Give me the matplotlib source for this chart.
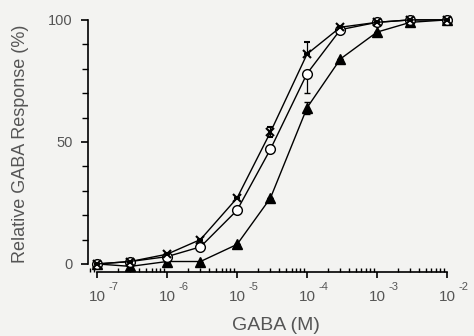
import matplotlib.pyplot as plt
import numpy as np
from matplotlib.ticker import FixedLocator, LogLocator, NullFormatter

plt.rcParams['font.family'] = ['Liberation Sans', 'DejaVu Sans']

# === data ===
conc = [1e-7, 3e-7, 1e-6, 3e-6, 1e-5, 3e-5, 1e-4, 3e-4, 1e-3, 3e-3, 1e-2]

cross_resp = [0, 1, 4, 10, 27, 54, 86, 97, 99, 100, 100]
cross_err_lo = [0, 0, 0, 0, 0, 2, 0, 0, 0, 0, 0]
cross_err_hi = [0, 0, 0, 0, 0, 2, 5, 0, 0, 0, 0]

circle_resp = [0, 1, 3, 7, 22, 47, 78, 96, 99, 100, 100]
circle_err_lo = [0, 0, 0, 0, 0, 0, 8, 0, 0, 0, 0]
circle_err_hi = [0, 0, 0, 0, 0, 0, 0, 0, 0, 0, 0]

tri_resp = [0, -1, 1, 1, 8, 27, 64, 84, 95, 99, 100]
tri_err = [0, 0, 0, 0, 0, 0, 2.5, 0, 0, 0, 0]

decade_ticks = [1e-7, 1e-6, 1e-5, 1e-4, 1e-3, 1e-2]
decade_exps = ['-7', '-6', '-5', '-4', '-3', '-2']

# === draw ===
bg = '#f3f3f1'
txt = '#555555'
fig = plt.figure(figsize=(4.74, 3.36), dpi=100, facecolor=bg)
ax = fig.add_axes([88 / 474, 1 - 272 / 336, (452 - 88) / 474, (272 - 15) / 336])
ax.set_facecolor(bg)

ax.errorbar(conc, tri_resp, yerr=tri_err, color='black', lw=1.0, marker='^',
            markersize=7, markerfacecolor='black', markeredgecolor='black',
            capsize=2.5, elinewidth=0.9, zorder=3)
ax.errorbar(conc, circle_resp, yerr=[circle_err_lo, circle_err_hi], color='black', lw=1.0,
            marker='o', markersize=7, markerfacecolor='white', markeredgecolor='black',
            capsize=2.5, elinewidth=0.9, zorder=4)
ax.errorbar(conc, cross_resp, yerr=[cross_err_lo, cross_err_hi], color='black', lw=1.0,
            marker='x', markersize=6, markeredgewidth=1.5, capsize=2.5, elinewidth=0.9,
            zorder=5)

ax.set_xscale('log')
ax.set_xlim(10 ** -7.13, 10 ** (-2 + 5 / 70))
ax.set_ylim(-3.3, 102)

ax.spines['top'].set_visible(False)
ax.spines['right'].set_visible(False)
ax.spines['left'].set_bounds(0, 100)
ax.spines['bottom'].set_bounds(1e-7, 1e-2)
for s in ['left', 'bottom']:
    ax.spines[s].set_linewidth(1.2)

# x ticks: "10" under the tick, exponent raised to its right
ax.xaxis.set_major_locator(FixedLocator(decade_ticks))
ax.set_xticklabels(['10'] * len(decade_ticks))
ax.xaxis.set_minor_locator(LogLocator(base=10, subs=np.arange(2, 10), numticks=20))
ax.xaxis.set_minor_formatter(NullFormatter())
ax.tick_params(axis='x', which='major', direction='out', length=4.5, width=1.2,
               labelsize=11, labelcolor=txt, pad=8.5)
ax.tick_params(axis='x', which='minor', direction='in', length=3, width=1.0)
for xt, ex in zip(decade_ticks, decade_exps):
    ax.annotate(ex, xy=(xt, 0), xycoords=('data', 'axes fraction'),
                xytext=(8, -7), textcoords='offset points',
                ha='left', va='top', fontsize=8, color=txt)

ax.set_yticks([0, 50, 100])
ax.set_yticks(np.arange(0, 101, 10), minor=True)
ax.tick_params(axis='y', which='major', direction='out', length=5, width=1.2,
               labelsize=10.5, labelcolor=txt, pad=6)
ax.tick_params(axis='y', which='minor', direction='out', length=4, width=1.0)

ax.set_xlabel('GABA (M)', fontsize=14, color=txt)
ax.xaxis.set_label_coords((276 - 88) / 364, (272 - 317) / 257)
ax.set_ylabel('Relative GABA Response (%)', fontsize=13, color=txt, labelpad=14)

plt.savefig('out.png', dpi=100, facecolor=bg)
